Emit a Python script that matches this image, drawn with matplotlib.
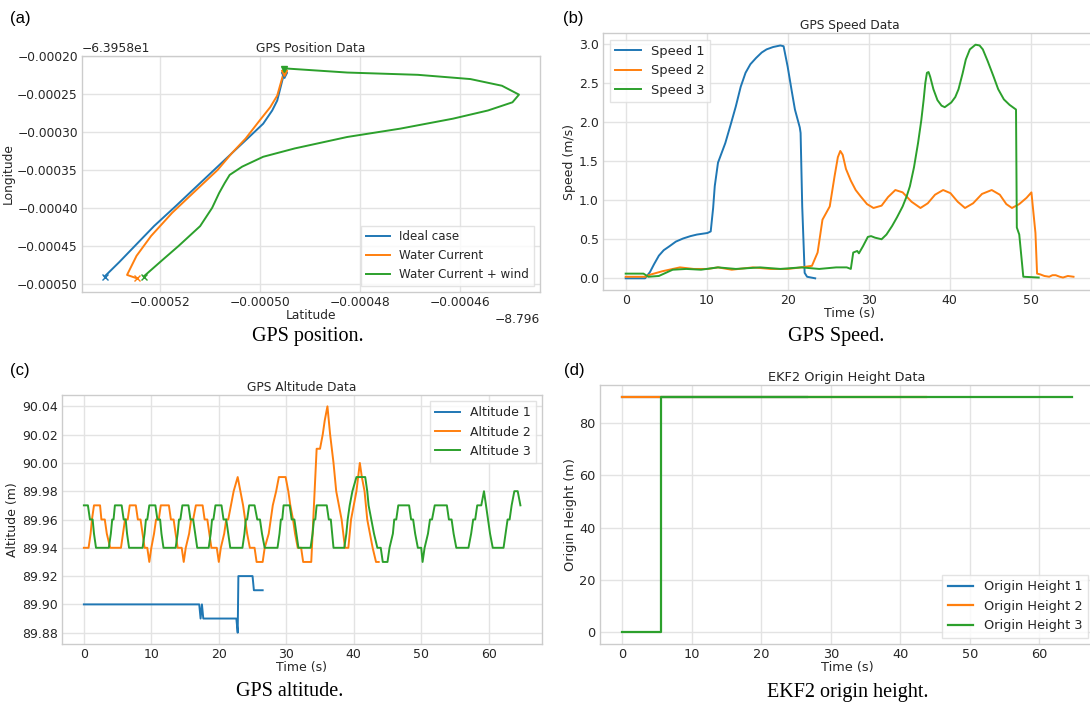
import matplotlib
matplotlib.use("Agg")
import matplotlib.pyplot as plt

# ---------------- (a) GPS position (values relative to offsets, in 1e-5 deg) -------------
LAT0 = -8.796
LON0 = -63.958
ideal_lat = [-49.52, -49.65, -49.75, -49.93, -50.21, -50.49, -50.91, -51.33, -51.68, -52.11, -52.46, -52.81, -53.10]
ideal_lon = [-22.48, -25.87, -27.18, -28.92, -30.67, -32.40, -35.01, -37.62, -39.80, -42.41, -44.80, -47.19, -49.07]
water_lat = [-49.52, -49.65, -49.79, -50.00, -50.28, -50.56, -50.84, -51.33, -51.75, -52.17, -52.46, -52.65, -52.46]
water_lon = [-22.18, -25.22, -26.75, -28.49, -30.87, -32.83, -35.01, -38.05, -40.67, -43.72, -46.33, -48.85, -49.28]
wind_lat = [-49.52, -49.44, -48.25, -46.84, -45.79, -45.16, -44.82, -44.95, -45.44, -46.14, -47.19, -48.25,
            -49.30, -49.93, -50.35, -50.60, -50.70, -50.81, -50.95, -51.19, -51.62, -51.96, -52.32]
wind_lon = [-21.74, -21.66, -22.18, -22.48, -23.04, -23.92, -25.09, -26.10, -27.18, -28.26, -29.57, -30.67,
            -32.18, -33.28, -34.58, -35.67, -36.75, -38.05, -40.01, -42.42, -45.03, -46.98, -49.07]
pos_labels = ["Ideal case", "Water Current", "Water Current + wind"]

# ---------------- (b) GPS speed -------------
sp1_t = [0, 2.4, 3.0, 3.5, 4.1, 4.7, 5.4, 6.2, 7.1, 8.0, 8.8, 10.1, 10.5, 10.8, 11.0, 11.4, 12.3, 13.0, 13.6,
         14.2, 14.8, 15.4, 16.1, 16.8, 17.4, 18.2, 19.1, 19.5, 20.0, 20.5, 20.9, 21.5, 21.6, 21.8, 22.1, 22.4, 23.4]
sp1_v = [0.0, 0.0, 0.08, 0.18, 0.29, 0.36, 0.41, 0.47, 0.51, 0.54, 0.56, 0.58, 0.60, 0.90, 1.18, 1.48, 1.73,
         1.98, 2.20, 2.45, 2.63, 2.74, 2.82, 2.89, 2.93, 2.96, 2.98, 2.97, 2.71, 2.40, 2.16, 1.93, 1.86, 0.92,
         0.07, 0.02, 0.0]
sp2_t = [0, 2.5, 2.8, 4.5, 6.7, 8.4, 10.1, 11.4, 13.1, 15.7, 17.9, 20.0, 21.7, 23.0, 23.7, 24.3, 25.2, 25.8,
         26.2, 26.5, 26.8, 27.2, 27.8, 28.4, 29.0, 29.8, 30.6, 31.6, 32.4, 33.3, 34.2, 35.3, 36.4, 37.3, 38.2,
         39.2, 40.1, 41.0, 41.9, 42.9, 44.0, 45.2, 46.2, 47.0, 47.7, 48.6, 49.5, 50.1, 50.6, 50.8, 51.2, 51.7,
         52.3, 52.7, 53.1, 53.6, 54.0, 54.6, 55.3]
sp2_v = [0.02, 0.02, 0.04, 0.09, 0.14, 0.12, 0.12, 0.14, 0.11, 0.14, 0.12, 0.12, 0.14, 0.16, 0.33, 0.75, 0.92,
         1.31, 1.55, 1.63, 1.58, 1.40, 1.25, 1.13, 1.05, 0.95, 0.90, 0.93, 1.04, 1.13, 1.10, 0.98, 0.90, 0.96,
         1.07, 1.13, 1.09, 0.98, 0.90, 0.96, 1.08, 1.13, 1.07, 0.95, 0.90, 0.95, 1.03, 1.10, 0.58, 0.06, 0.05,
         0.03, 0.02, 0.04, 0.04, 0.02, 0.01, 0.03, 0.02]
sp3_t = [0, 2.2, 2.8, 4.1, 5.8, 7.5, 9.3, 11.4, 13.6, 16.6, 19.1, 21.7, 23.9, 26.0, 27.3, 27.8, 28.1, 28.6,
         28.8, 29.3, 29.9, 30.3, 30.8, 31.6, 32.2, 32.9, 33.5, 34.2, 34.7, 35.1, 35.6, 36.1, 36.5, 36.8, 37.0,
         37.2, 37.4, 37.6, 38.0, 38.5, 39.0, 39.4, 40.2, 40.7, 41.1, 41.6, 42.0, 42.5, 43.2, 43.7, 44.1, 44.7,
         45.4, 46.0, 46.7, 47.4, 48.2, 48.3, 48.6, 49.1, 51.0]
sp3_v = [0.06, 0.06, 0.02, 0.03, 0.11, 0.12, 0.11, 0.14, 0.12, 0.14, 0.12, 0.14, 0.12, 0.14, 0.14, 0.12, 0.33,
         0.35, 0.32, 0.41, 0.53, 0.54, 0.52, 0.50, 0.56, 0.67, 0.78, 0.92, 1.05, 1.18, 1.42, 1.73, 2.02, 2.29,
         2.50, 2.63, 2.64, 2.58, 2.42, 2.28, 2.21, 2.19, 2.25, 2.32, 2.42, 2.62, 2.80, 2.93, 2.99, 2.98, 2.93,
         2.78, 2.59, 2.42, 2.29, 2.22, 2.16, 0.65, 0.56, 0.02, 0.01]

# ---------------- (c) GPS altitude -------------
alt1_t = [0, 17.1, 17.3, 17.5, 17.7, 22.6, 22.8, 22.9, 25.0, 25.2, 26.5]
alt1_v = [89.90, 89.90, 89.89, 89.90, 89.89, 89.89, 89.88, 89.92, 89.92, 89.91, 89.91]
alt2_t = [0.0, 0.7, 1.0, 1.2, 1.5, 2.4, 2.6, 3.1, 3.4, 3.9, 5.5, 5.8, 6.1, 6.5, 6.8, 7.7, 8.0, 8.4, 8.7, 9.0,
          9.4, 9.7, 10.0, 10.4, 10.7, 11.1, 11.4, 12.6, 12.9, 13.3, 13.6, 13.9, 14.5, 14.8, 15.1, 15.6, 15.9,
          16.2, 16.6, 17.6, 17.9, 18.3, 18.6, 18.9, 19.7, 20.0, 20.3, 20.8, 21.1, 21.4, 21.8, 22.2, 22.8, 23.2,
          23.6, 23.9, 24.2, 24.6, 25.3, 25.6, 26.5, 26.8, 27.4, 27.7, 28.0, 28.5, 28.9, 29.9, 30.3, 30.6, 31.0,
          31.3, 31.7, 32.2, 32.5, 33.7, 34.0, 34.5, 35.0, 35.4, 35.7, 36.1, 36.5, 37.0, 37.4, 37.8, 38.2, 38.7,
          39.2, 39.6, 40.0, 40.4, 40.9, 41.2, 41.6, 42.0, 42.4, 42.8, 43.3, 43.7]
alt2_v = [89.94, 89.94, 89.95, 89.96, 89.97, 89.97, 89.96, 89.96, 89.95, 89.94, 89.94, 89.95, 89.96, 89.96,
          89.97, 89.97, 89.96, 89.96, 89.95, 89.94, 89.94, 89.93, 89.94, 89.95, 89.96, 89.96, 89.97, 89.97,
          89.96, 89.96, 89.95, 89.94, 89.94, 89.93, 89.94, 89.95, 89.96, 89.96, 89.97, 89.97, 89.96, 89.96,
          89.95, 89.94, 89.94, 89.93, 89.94, 89.95, 89.96, 89.96, 89.97, 89.98, 89.99, 89.98, 89.97, 89.96,
          89.95, 89.94, 89.94, 89.93, 89.93, 89.94, 89.95, 89.96, 89.97, 89.98, 89.99, 89.99, 89.98, 89.97,
          89.96, 89.95, 89.94, 89.94, 89.93, 89.93, 89.96, 90.01, 90.01, 90.02, 90.03, 90.04, 90.02, 90.00,
          89.98, 89.97, 89.96, 89.94, 89.94, 89.96, 89.97, 89.98, 90.00, 89.99, 89.98, 89.96, 89.95, 89.94,
          89.93, 89.93]
alt3_t = [0.0, 0.6, 0.9, 1.3, 1.5, 1.8, 3.7, 4.0, 4.2, 4.4, 4.6, 5.6, 5.9, 6.2, 6.4, 6.7, 8.7, 9.0, 9.2, 9.4,
          9.7, 10.6, 10.9, 11.3, 11.5, 11.8, 13.6, 13.9, 14.1, 14.3, 14.6, 15.5, 15.8, 16.2, 16.5, 16.8, 18.5,
          18.8, 19.0, 19.2, 19.5, 20.4, 20.7, 21.1, 21.4, 21.7, 23.5, 23.8, 24.0, 24.2, 24.5, 25.3, 25.7, 26.1,
          26.4, 26.8, 28.7, 29.0, 29.2, 29.4, 29.6, 30.5, 30.8, 31.2, 31.5, 31.8, 33.6, 33.9, 34.1, 34.3, 34.5,
          36.0, 36.3, 36.6, 36.8, 37.0, 38.6, 38.9, 39.1, 39.4, 39.8, 40.4, 41.7, 42.0, 42.2, 42.6, 43.0, 43.5,
          44.0, 44.3, 45.0, 45.3, 45.8, 46.0, 46.3, 46.6, 48.2, 48.5, 48.8, 49.1, 49.5, 50.0, 50.2, 50.5, 51.0,
          51.3, 51.6, 52.0, 53.8, 54.1, 54.5, 54.8, 55.2, 57.0, 57.4, 57.7, 58.0, 58.3, 58.9, 59.3, 59.6, 59.9,
          60.2, 60.6, 62.2, 62.5, 62.8, 63.1, 63.4, 63.8, 64.3, 64.7]
alt3_v = [89.97, 89.97, 89.96, 89.96, 89.95, 89.94, 89.94, 89.95, 89.96, 89.96, 89.97, 89.97, 89.96, 89.96,
          89.95, 89.94, 89.94, 89.95, 89.96, 89.96, 89.97, 89.97, 89.96, 89.96, 89.95, 89.94, 89.94, 89.95,
          89.96, 89.96, 89.97, 89.97, 89.96, 89.96, 89.95, 89.94, 89.94, 89.95, 89.96, 89.96, 89.97, 89.97,
          89.96, 89.96, 89.95, 89.94, 89.94, 89.95, 89.96, 89.96, 89.97, 89.97, 89.96, 89.96, 89.95, 89.94,
          89.94, 89.95, 89.96, 89.96, 89.97, 89.97, 89.96, 89.96, 89.95, 89.94, 89.94, 89.95, 89.96, 89.96,
          89.97, 89.97, 89.96, 89.96, 89.95, 89.94, 89.94, 89.95, 89.96, 89.97, 89.98, 89.99, 89.99, 89.98,
          89.97, 89.96, 89.95, 89.94, 89.94, 89.93, 89.93, 89.94, 89.95, 89.96, 89.96, 89.97, 89.97, 89.96,
          89.96, 89.95, 89.94, 89.94, 89.93, 89.94, 89.95, 89.96, 89.96, 89.97, 89.97, 89.96, 89.96, 89.95,
          89.94, 89.94, 89.95, 89.96, 89.96, 89.97, 89.97, 89.98, 89.97, 89.96, 89.95, 89.94, 89.94, 89.95,
          89.96, 89.96, 89.97, 89.98, 89.98, 89.97]

# ---------------- (d) EKF2 origin height -------------
oh1_t = [0, 26.5]
oh1_v = [89.90, 89.90]
oh2_t = [0, 43.7]
oh2_v = [89.94, 89.94]
oh3_t = [0, 5.6, 5.6, 64.7]
oh3_v = [0.0, 0.0, 89.94, 89.94]

C = ["#1f77b4", "#ff7f0e", "#2ca02c"]
TXT = "#262626"
plt.rcParams.update({
    "font.family": ["DejaVu Sans"],
    "axes.edgecolor": "#cccccc",
    "axes.linewidth": 1.0,
    "grid.color": "#e3e3e3",
    "grid.linewidth": 1.0,
    "text.color": TXT,
    "axes.labelcolor": TXT,
    "xtick.color": TXT,
    "ytick.color": TXT,
    "xtick.major.size": 0,
    "ytick.major.size": 0,
    "legend.edgecolor": "#dddddd",
})

W, H = 1090, 702
fig = plt.figure(figsize=(W / 100, H / 100), dpi=100)


def add_ax(l, r, t, b):
    return fig.add_axes([l / W, 1 - b / H, (r - l) / W, (b - t) / H])


def style(ax, fs):
    ax.grid(True)
    ax.set_axisbelow(True)
    ax.tick_params(labelsize=fs, pad=3)
    for s in ax.spines.values():
        s.set_color("#cccccc")


# (a)
FA = 8.8
ax = add_ax(82, 540, 56, 292)
style(ax, FA)
lats = [ideal_lat, water_lat, wind_lat]
lons = [ideal_lon, water_lon, wind_lon]
for la, lo, c, lab in zip(lats, lons, C, pos_labels):
    xs = [LAT0 + v * 1e-5 for v in la]
    ys = [LON0 + v * 1e-5 for v in lo]
    ax.plot(xs, ys, color=c, lw=1.4, label=lab)
for la, lo, c in zip(lats, lons, C):
    ax.plot(LAT0 + la[0] * 1e-5, LON0 + lo[0] * 1e-5, marker="v", color=c, ms=5, ls="none")
    ax.plot(LAT0 + la[-1] * 1e-5, LON0 + lo[-1] * 1e-5, marker="x", color=c, ms=5, ls="none")
ax.set_xlim(LAT0 - 53.55e-5, LAT0 - 44.40e-5)
ax.set_ylim(LON0 - 51.1e-5, LON0 - 20.0e-5)
ax.ticklabel_format(axis="x", style="plain", useOffset=LAT0)
ax.ticklabel_format(axis="y", style="plain", useOffset=LON0)
ax.xaxis.get_offset_text().set_fontsize(FA)
ax.yaxis.get_offset_text().set_fontsize(FA)
ax.set_title("GPS Position Data", fontsize=FA, pad=3)
ax.set_xlabel("Latitude", fontsize=FA, labelpad=0)
ax.set_ylabel("Longitude", fontsize=FA, labelpad=2)
ax.legend(loc="lower right", fontsize=8.6, handlelength=2, fancybox=False, framealpha=0.8)

# (b)
ax = add_ax(603, 1097, 33, 290)
style(ax, 9)
for t, v, c, lab in zip([sp1_t, sp2_t, sp3_t], [sp1_v, sp2_v, sp3_v], C, ["Speed 1", "Speed 2", "Speed 3"]):
    ax.plot(t, v, color=c, lw=1.4, label=lab)
ax.set_xlim(-2.8, 58.2)
ax.set_yticks([0.0, 0.5, 1.0, 1.5, 2.0, 2.5, 3.0])
ax.set_title("GPS Speed Data", fontsize=8.8, pad=3)
ax.set_xlabel("Time (s)", fontsize=9, labelpad=0)
ax.set_ylabel("Speed (m/s)", fontsize=9, labelpad=2)
ax.legend(loc="upper left", fontsize=9.4, handlelength=2, fancybox=False, framealpha=0.8)

# (c)
ax = add_ax(62, 542, 395, 644)
style(ax, 9)
for t, v, c, lab in zip([alt1_t, alt2_t, alt3_t], [alt1_v, alt2_v, alt3_v], C,
                        ["Altitude 1", "Altitude 2", "Altitude 3"]):
    ax.plot(t, v, color=c, lw=1.4, label=lab)
ax.set_xlim(-3.24, 67.9)
ax.set_yticks([89.88, 89.90, 89.92, 89.94, 89.96, 89.98, 90.00, 90.02, 90.04])
ax.set_yticklabels(["89.88", "89.90", "89.92", "89.94", "89.96", "89.98", "90.00", "90.02", "90.04"])
ax.set_title("GPS Altitude Data", fontsize=8.8, pad=3)
ax.set_xlabel("Time (s)", fontsize=9, labelpad=0)
ax.set_ylabel("Altitude (m)", fontsize=9, labelpad=2)
ax.legend(loc="upper right", fontsize=9, handlelength=2, fancybox=False, framealpha=0.8)

# (d)
ax = add_ax(600, 1094, 385, 644)
style(ax, 9.3)
for t, v, c, lab in zip([oh1_t, oh2_t, oh3_t], [oh1_v, oh2_v, oh3_v], C,
                        ["Origin Height 1", "Origin Height 2", "Origin Height 3"]):
    ax.plot(t, v, color=c, lw=1.6, label=lab)
ax.set_xlim(-3.24, 67.9)
ax.set_yticks([0, 20, 40, 60, 80])
ax.set_title("EKF2 Origin Height Data", fontsize=9.3, pad=3)
ax.set_xlabel("Time (s)", fontsize=9.3, labelpad=0)
ax.set_ylabel("Origin Height (m)", fontsize=9.3, labelpad=2)
ax.legend(loc="lower right", fontsize=9.3, handlelength=2, fancybox=False, framealpha=0.8)

# panel labels and captions
for x, y, s in [(20, 18, "(a)"), (573, 18, "(b)"), (20, 370, "(c)"), (574, 370, "(d)")]:
    fig.text(x / W, 1 - y / H, s, fontsize=12, family="Liberation Sans", ha="center", va="center", color="black")
for x, y, s in [(308, 337, "GPS position."), (836, 337, "GPS Speed."), (290, 691, "GPS altitude."),
                (848, 692, "EKF2 origin height.")]:
    fig.text(x / W, 1 - y / H, s, fontsize=14.5, family="Liberation Serif", ha="center", va="center",
             color="black")

fig.savefig("out.png", dpi=100)
